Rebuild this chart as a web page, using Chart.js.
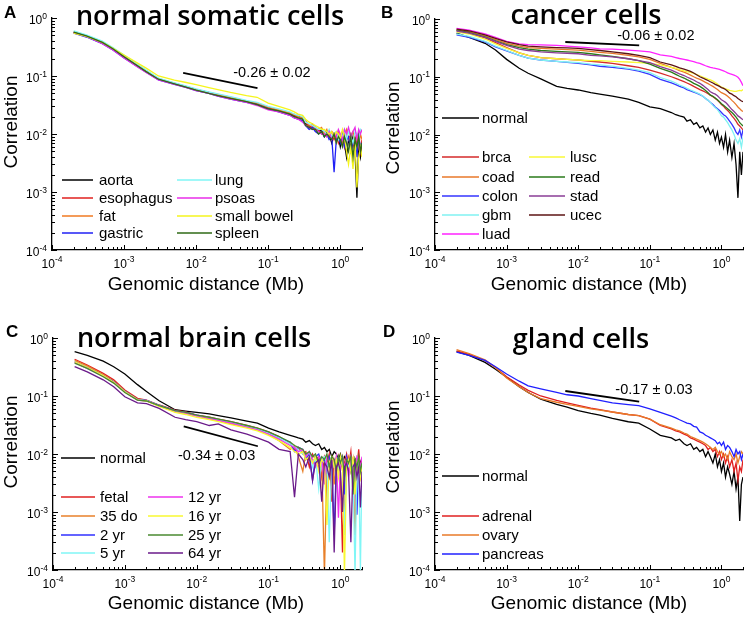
<!DOCTYPE html>
<html>
<head>
<meta charset="utf-8">
<script src="https://cdn.jsdelivr.net/npm/chart.js@4.4.1/dist/chart.umd.min.js"></script>
<style>
  body { margin: 0; background: #fff; }
  #wrap { position: relative; width: 744px; height: 618px; }
  canvas { position: absolute; }
</style>
</head>
<body>
<div id="wrap">
  <canvas id="panelA" width="372" height="309" style="left:0;top:0"></canvas>
  <canvas id="panelB" width="372" height="309" style="left:372px;top:0"></canvas>
  <canvas id="panelC" width="372" height="309" style="left:0;top:309px"></canvas>
  <canvas id="panelD" width="372" height="309" style="left:372px;top:309px"></canvas>
</div>
<script>
// genomic distance (Mb), shared by every series
const distance = [0.0002,0.0003,0.0005,0.0007,0.001,0.0015,0.002,0.003,0.005,0.007,0.01,0.015,0.02,0.03,0.05,0.07,0.1,0.14,
  0.2,0.23,0.26,0.3,0.33,0.37,0.41,0.45,0.5,0.55, 0.6,0.65,0.7,0.76,0.82,0.88,0.94,1.0,1.07,1.14, 1.22,1.3,1.4,1.5,1.6,1.7,1.8,1.9,2.0];

// A - normal somatic cells
const aorta      = [0.57,0.49,0.38,0.30,0.22,0.155,0.122,0.088,0.073,0.066,0.058,0.052,0.047,0.042,0.036,0.033,0.028,0.025,
  0.022,0.020,0.021,0.018,0.015,0.014,0.012,0.013,0.011,0.012, 0.009,0.011,0.010,0.007,0.010,0.008,0.009,0.006,0.009,0.007, 0.004,0.008,0.006,0.009,0.005,0.0008,0.006,0.004,0.007];
const esophagus  = [0.56,0.48,0.37,0.29,0.215,0.152,0.12,0.089,0.074,0.066,0.058,0.051,0.047,0.042,0.036,0.033,0.028,0.025,
  0.023,0.021,0.019,0.019,0.016,0.013,0.014,0.012,0.012,0.010, 0.011,0.009,0.010,0.011,0.008,0.010,0.007,0.009,0.011,0.006, 0.009,0.008,0.010,0.006,0.009,0.007,0.010,0.005,0.008];
const fat        = [0.57,0.49,0.38,0.30,0.22,0.157,0.124,0.09,0.075,0.067,0.059,0.052,0.048,0.043,0.037,0.034,0.029,0.026,
  0.023,0.022,0.020,0.019,0.017,0.014,0.015,0.013,0.012,0.013, 0.010,0.012,0.009,0.011,0.010,0.008,0.011,0.009,0.007,0.010, 0.012,0.008,0.009,0.011,0.007,0.009,0.006,0.010,0.008];
const gastric    = [0.55,0.47,0.36,0.28,0.205,0.148,0.117,0.086,0.072,0.064,0.056,0.05,0.045,0.04,0.035,0.032,0.027,0.024,
  0.021,0.019,0.018,0.017,0.014,0.012,0.013,0.011,0.010,0.011, 0.009,0.010,0.008,0.009,0.0022,0.008,0.009,0.007,0.010,0.006, 0.008,0.009,0.005,0.007,0.008,0.004,0.009,0.006,0.007];
const lung       = [0.60,0.51,0.40,0.31,0.23,0.163,0.128,0.092,0.076,0.068,0.06,0.053,0.049,0.044,0.038,0.035,0.030,0.027,
  0.024,0.022,0.021,0.020,0.016,0.015,0.014,0.013,0.012,0.012, 0.011,0.010,0.012,0.009,0.010,0.011,0.008,0.010,0.009,0.012, 0.008,0.011,0.009,0.007,0.011,0.010,0.008,0.012,0.011];
const psoas      = [0.56,0.48,0.36,0.28,0.205,0.146,0.116,0.086,0.072,0.064,0.056,0.05,0.045,0.04,0.035,0.031,0.026,0.024,
  0.021,0.019,0.018,0.016,0.014,0.013,0.012,0.012,0.011,0.010, 0.010,0.009,0.011,0.008,0.010,0.009,0.012,0.010,0.008,0.012, 0.010,0.013,0.009,0.011,0.013,0.008,0.012,0.010,0.012];
const smallBowel = [0.55,0.48,0.38,0.30,0.23,0.17,0.138,0.10,0.085,0.078,0.071,0.063,0.058,0.052,0.046,0.043,0.034,0.03,
  0.026,0.024,0.022,0.021,0.018,0.016,0.015,0.014,0.013,0.012, 0.012,0.011,0.010,0.011,0.009,0.011,0.010,0.008,0.012,0.009, 0.005,0.003,0.006,0.0025,0.008,0.0012,0.004,0.006,0.004];
const spleen     = [0.57,0.49,0.38,0.295,0.215,0.153,0.12,0.088,0.073,0.065,0.057,0.05,0.046,0.041,0.036,0.032,0.027,0.025,
  0.022,0.020,0.019,0.018,0.014,0.013,0.012,0.012,0.010,0.011, 0.009,0.010,0.009,0.008,0.010,0.007,0.009,0.008,0.006,0.009, 0.007,0.005,0.009,0.004,0.008,0.006,0.009,0.005,0.007];

// B - cancer cells
const normalB = [0.57,0.48,0.38,0.29,0.2,0.14,0.115,0.092,0.068,0.063,0.059,0.053,0.05,0.046,0.041,0.036,0.03,0.028,
  0.024,0.022,0.021,0.020,0.017,0.018,0.015,0.016,0.013,0.014, 0.011,0.013,0.010,0.012,0.008,0.011,0.007,0.009,0.006,0.010, 0.005,0.008,0.004,0.007,0.003,0.0008,0.005,0.002,0.005];
const brca  = [0.63,0.57,0.47,0.39,0.32,0.26,0.235,0.215,0.205,0.2,0.195,0.185,0.18,0.17,0.155,0.145,0.13,0.115,
  0.1,0.094,0.088,0.082,0.078,0.073,0.068,0.064,0.06,0.057, 0.054,0.051,0.048,0.045,0.042,0.039,0.036,0.033,0.031,0.028, 0.026,0.024,0.021,0.019,0.017,0.015,0.014,0.013,0.012];
const coad  = [0.65,0.6,0.51,0.44,0.38,0.34,0.32,0.31,0.30,0.295,0.29,0.275,0.265,0.255,0.235,0.22,0.2,0.17,
  0.145,0.137,0.128,0.12,0.114,0.107,0.1,0.095,0.09,0.085, 0.08,0.076,0.072,0.068,0.064,0.06,0.056,0.053,0.051,0.049, 0.046,0.043,0.039,0.036,0.033,0.03,0.028,0.026,0.025];
const colon = [0.53,0.48,0.40,0.33,0.28,0.235,0.21,0.195,0.185,0.178,0.17,0.16,0.152,0.145,0.135,0.125,0.11,0.09,
  0.078,0.073,0.068,0.064,0.06,0.057,0.054,0.052,0.049,0.046, 0.042,0.039,0.036,0.033,0.03,0.028,0.026,0.024,0.022,0.021, 0.019,0.017,0.015,0.013,0.011,0.01,0.012,0.009,0.012];
const gbm   = [0.55,0.5,0.41,0.34,0.285,0.235,0.21,0.195,0.185,0.18,0.175,0.165,0.16,0.153,0.14,0.13,0.118,0.097,
  0.084,0.078,0.072,0.067,0.063,0.059,0.056,0.053,0.05,0.046, 0.042,0.039,0.036,0.032,0.029,0.027,0.024,0.021,0.02,0.018, 0.016,0.014,0.012,0.01,0.008,0.007,0.0085,0.006,0.009];
const luad  = [0.69,0.64,0.55,0.48,0.41,0.37,0.36,0.355,0.35,0.34,0.33,0.315,0.305,0.30,0.29,0.28,0.27,0.24,
  0.225,0.215,0.207,0.2,0.195,0.188,0.182,0.176,0.17,0.162, 0.155,0.15,0.145,0.142,0.14,0.137,0.134,0.13,0.126,0.122, 0.117,0.113,0.11,0.107,0.103,0.098,0.09,0.08,0.07];
const lusc  = [0.6,0.55,0.45,0.37,0.31,0.26,0.235,0.215,0.205,0.2,0.195,0.19,0.19,0.185,0.18,0.175,0.17,0.16,
  0.145,0.139,0.133,0.127,0.123,0.119,0.114,0.109,0.104,0.099, 0.095,0.091,0.088,0.084,0.079,0.075,0.07,0.066,0.064,0.062, 0.06,0.058,0.057,0.056,0.056,0.057,0.058,0.057,0.06];
const read  = [0.64,0.58,0.49,0.42,0.36,0.32,0.30,0.285,0.275,0.27,0.265,0.25,0.24,0.225,0.205,0.19,0.165,0.14,
  0.12,0.11,0.102,0.095,0.089,0.083,0.077,0.073,0.068,0.063, 0.058,0.053,0.048,0.046,0.043,0.04,0.037,0.034,0.032,0.03, 0.028,0.026,0.024,0.022,0.02,0.018,0.016,0.015,0.014];
const stad  = [0.62,0.57,0.48,0.41,0.35,0.30,0.285,0.27,0.26,0.255,0.25,0.235,0.23,0.22,0.205,0.19,0.175,0.15,
  0.13,0.12,0.112,0.105,0.099,0.093,0.088,0.082,0.077,0.071, 0.065,0.06,0.055,0.052,0.05,0.047,0.043,0.04,0.038,0.036, 0.033,0.03,0.027,0.025,0.023,0.021,0.02,0.019,0.018];
const ucec  = [0.67,0.62,0.53,0.46,0.40,0.36,0.34,0.33,0.32,0.315,0.31,0.295,0.285,0.27,0.25,0.235,0.215,0.18,
  0.16,0.151,0.142,0.135,0.13,0.124,0.116,0.108,0.1,0.095, 0.09,0.086,0.082,0.078,0.074,0.071,0.068,0.065,0.063,0.06, 0.056,0.052,0.05,0.047,0.045,0.042,0.04,0.038,0.037];

// C - normal brain cells
const normalC = [0.58,0.5,0.4,0.32,0.24,0.157,0.12,0.083,0.058,0.055,0.052,0.049,0.046,0.042,0.037,0.034,0.028,0.024,
  0.021,0.020,0.019,0.018,0.016,0.017,0.015,0.014,0.015,0.012, 0.013,0.011,0.012,0.009,0.011,0.010,0.008,0.010,0.007,0.009, 0.008,0.006,0.009,0.007,0.008,0.005,0.009,0.007,0.008];
const fetal = [0.43,0.34,0.245,0.19,0.127,0.091,0.085,0.07,0.057,0.053,0.047,0.043,0.04,0.036,0.031,0.028,0.024,0.02,
  0.015,0.012,0.013,0.010,0.011,0.006,0.010,0.008,0.009,0.004, 0.009,0.007,0.010,0.0015,0.008,0.006,0.009,0.005,0.0002,0.007, 0.010,0.006,0.011,0.003,0.008,0.006,0.012,0.005,0.008];
const do35  = [0.41,0.33,0.235,0.18,0.122,0.088,0.083,0.068,0.055,0.05,0.046,0.04,0.038,0.033,0.029,0.026,0.022,0.017,
  0.012,0.014,0.009,0.005,0.010,0.008,0.007,0.009,0.006,0.008, 0.00008,0.007,0.006,0.008,0.003,0.009,0.006,0.005,0.008,0.0006, 0.007,0.009,0.005,0.008,0.0004,0.007,0.008,0.004,0.006];
const yr2   = [0.39,0.31,0.225,0.175,0.12,0.087,0.084,0.069,0.056,0.052,0.047,0.042,0.039,0.035,0.03,0.027,0.023,0.019,
  0.016,0.011,0.013,0.012,0.008,0.010,0.0035,0.009,0.010,0.007, 0.008,0.005,0.009,0.007,0.0004,0.008,0.009,0.006,0.008,0.002, 0.009,0.007,0.005,0.008,0.006,0.0009,0.007,0.005,0.007];
const yr5   = [0.38,0.30,0.22,0.17,0.118,0.086,0.083,0.068,0.055,0.051,0.046,0.042,0.039,0.035,0.03,0.027,0.023,0.019,
  0.015,0.013,0.012,0.010,0.009,0.011,0.006,0.009,0.0025,0.008, 0.009,0.007,0.0003,0.008,0.006,0.009,0.005,0.008,0.009,0.0004, 0.007,0.006,0.008,0.005,0.00008,0.008,0.006,0.0001,0.007];
const yr12  = [0.38,0.30,0.22,0.17,0.117,0.085,0.082,0.067,0.054,0.05,0.045,0.041,0.038,0.034,0.029,0.026,0.022,0.018,
  0.014,0.013,0.011,0.012,0.009,0.011,0.008,0.006,0.009,0.008, 0.003,0.009,0.007,0.008,0.006,0.009,0.0008,0.007,0.009,0.006, 0.008,0.004,0.009,0.007,0.005,0.009,0.008,0.006,0.009];
const yr16  = [0.39,0.31,0.225,0.172,0.118,0.086,0.082,0.066,0.052,0.048,0.043,0.039,0.036,0.032,0.028,0.025,0.021,0.017,
  0.013,0.011,0.010,0.011,0.008,0.009,0.007,0.009,0.005,0.008, 0.007,0.0006,0.007,0.009,0.006,0.008,0.004,0.009,0.006,0.00008, 0.007,0.008,0.005,0.009,0.002,0.007,0.008,0.004,0.006];
const yr25  = [0.37,0.30,0.215,0.167,0.115,0.085,0.082,0.068,0.056,0.052,0.047,0.043,0.04,0.036,0.031,0.028,0.024,0.02,
  0.016,0.014,0.013,0.012,0.010,0.011,0.009,0.010,0.007,0.009, 0.008,0.010,0.006,0.009,0.008,0.005,0.009,0.007,0.009,0.004, 0.008,0.007,0.009,0.002,0.008,0.006,0.009,0.005,0.007];
const yr64  = [0.32,0.26,0.19,0.144,0.097,0.076,0.074,0.061,0.043,0.039,0.036,0.031,0.033,0.026,0.022,0.019,0.016,0.012,
  0.011,0.0018,0.010,0.008,0.006,0.009,0.0035,0.007,0.008,0.0015, 0.007,0.006,0.004,0.008,0.0002,0.006,0.007,0.005,0.001,0.006, 0.007,0.005,0.0003,0.006,0.007,0.004,0.006,0.0012,0.005];

// D - gland cells
const normalD  = [0.58,0.5,0.38,0.29,0.21,0.145,0.115,0.088,0.072,0.064,0.056,0.05,0.047,0.041,0.036,0.034,0.027,0.021,
  0.019,0.017,0.018,0.015,0.014,0.015,0.012,0.013,0.011,0.012, 0.009,0.011,0.009,0.007,0.010,0.006,0.008,0.005,0.007,0.004, 0.006,0.0045,0.003,0.005,0.0025,0.004,0.0007,0.003,0.004];
const adrenal  = [0.6,0.52,0.41,0.31,0.215,0.155,0.125,0.1,0.084,0.076,0.069,0.062,0.058,0.053,0.048,0.046,0.04,0.031,
  0.027,0.025,0.024,0.022,0.021,0.019,0.018,0.017,0.016,0.015, 0.014,0.012,0.013,0.011,0.012,0.009,0.011,0.008,0.010,0.007, 0.009,0.006,0.008,0.005,0.007,0.0035,0.006,0.005,0.008];
const ovary    = [0.63,0.54,0.42,0.31,0.205,0.145,0.115,0.09,0.078,0.072,0.066,0.06,0.057,0.053,0.048,0.046,0.04,0.032,
  0.028,0.026,0.025,0.023,0.022,0.020,0.019,0.018,0.017,0.016, 0.015,0.014,0.013,0.012,0.013,0.011,0.010,0.011,0.009,0.010, 0.008,0.011,0.009,0.008,0.010,0.007,0.009,0.011,0.010];
const pancreas = [0.57,0.5,0.41,0.32,0.24,0.18,0.15,0.133,0.115,0.105,0.1,0.09,0.084,0.076,0.071,0.068,0.06,0.052,
  0.045,0.042,0.039,0.036,0.034,0.033,0.030,0.029,0.024,0.023, 0.021,0.020,0.019,0.018,0.017,0.015,0.016,0.014,0.016,0.012, 0.014,0.013,0.011,0.009,0.012,0.010,0.011,0.008,0.010];

// fitted slope guide lines and their labels
const slopeX = [0.0066, 0.071];
const slopeA = [0.113, 0.062];
const slopeB = [0.40, 0.35];
const slopeC = [0.030, 0.0136];
const slopeD = [0.122, 0.08];
const slopeText = ['-0.26 \u00b1 0.02', '-0.06 \u00b1 0.02', '-0.34 \u00b1 0.03', '-0.17 \u00b1 0.03'];

// tick labels: 10^exp
const decades = [1e-4, 1e-3, 1e-2, 1e-1, 1];
const exponents = ['-4', '-3', '-2', '-1', '0'];

const SANS = '"Liberation Sans", Arial, sans-serif';

function powLabel(ctx, x, y, exp, align) {
  ctx.font = '12px ' + SANS;
  const wb = ctx.measureText('10').width;
  ctx.font = '8.5px ' + SANS;
  const we = ctx.measureText(exp).width;
  const left = align === 'right' ? x - wb - we : x - (wb + we) / 2;
  ctx.textAlign = 'left';
  ctx.textBaseline = 'alphabetic';
  ctx.font = '12px ' + SANS;
  ctx.fillText('10', left, y);
  ctx.font = '8.5px ' + SANS;
  ctx.fillText(exp, left + wb, y - 5.5);
}

const decor = {
  id: 'decor',
  afterDraw(chart, args, o) {
    const ctx = chart.ctx;
    const xs = chart.scales.x, ys = chart.scales.y;
    const a = chart.chartArea;
    ctx.save();
    ctx.fillStyle = '#000';
    ctx.strokeStyle = '#000';
    ctx.lineWidth = 1;

    // inward ticks, major and minor
    ctx.beginPath();
    for (let e = -4; e <= 0; e++) {
      for (let m = 1; m <= 9; m++) {
        const v = m * Math.pow(10, e);
        const len = m === 1 ? 5 : 3;
        if (v <= 2) {
          const px = Math.round(xs.getPixelForValue(v)) + 0.5;
          ctx.moveTo(px, a.bottom); ctx.lineTo(px, a.bottom - len);
        }
        if (v <= 1) {
          const py = Math.round(ys.getPixelForValue(v)) + 0.5;
          ctx.moveTo(a.left, py); ctx.lineTo(a.left + len, py);
        }
      }
    }
    ctx.stroke();

    decades.forEach((v, i) => {
      powLabel(ctx, xs.getPixelForValue(v), a.bottom + 17.5, exponents[i], 'center');
      powLabel(ctx, a.left - 5, ys.getPixelForValue(v) + 6, exponents[i], 'right');
    });

    // axis titles
    ctx.font = '19px ' + SANS;
    ctx.textAlign = 'center';
    ctx.textBaseline = 'middle';
    ctx.fillText('Genomic distance (Mb)', o.xTitle[0], o.xTitle[1]);
    ctx.save();
    ctx.translate(o.yTitle[0], o.yTitle[1]);
    ctx.rotate(-Math.PI / 2);
    ctx.fillText('Correlation', 0, 0);
    ctx.restore();

    // panel title and letter
    ctx.font = '600 27px "Open Sans", sans-serif';
    ctx.textBaseline = 'alphabetic';
    ctx.fillText(o.title, o.titlePos[0], o.titlePos[1]);
    ctx.font = 'bold 17px ' + SANS;
    ctx.textAlign = 'left';
    ctx.fillText(o.letter, o.letterPos[0], o.letterPos[1]);

    // slope label
    ctx.font = '14.5px ' + SANS;
    ctx.textBaseline = 'middle';
    ctx.fillText(o.slopeLabel, xs.getPixelForValue(o.slopeAt[0]), ys.getPixelForValue(o.slopeAt[1]));

    // legend
    ctx.font = '15px ' + SANS;
    ctx.lineWidth = 1.5;
    o.series.forEach(s => {
      const col = o.legendCols[s.slot[0]];
      const y = o.legendRows[s.slot[1]];
      ctx.strokeStyle = s.color;
      ctx.beginPath();
      ctx.moveTo(col[0], y); ctx.lineTo(col[1], y);
      ctx.stroke();
      ctx.fillText(s.name, col[2], y + 1);
    });
    ctx.restore();
  }
};

function makePanel(id, cfg) {
  const n = cfg.series.length;
  const datasets = cfg.series.map((s, i) => ({
    label: s.name,
    data: s.values.map((v, k) => ({ x: distance[k], y: v })),
    borderColor: s.color,
    borderWidth: 1.3,
    pointRadius: 0,
    order: n - i
  }));
  datasets.push({
    label: 'slope',
    data: slopeX.map((x, k) => ({ x: x, y: cfg.slope[k] })),
    borderColor: '#000',
    borderWidth: 1.8,
    pointRadius: 0,
    order: 0
  });
  const area = cfg.area;
  return new Chart(document.getElementById(id), {
    type: 'line',
    data: { datasets: datasets },
    options: {
      responsive: false,
      animation: false,
      devicePixelRatio: 1,
      layout: { padding: { left: 0, top: area[1], right: 372 - area[2], bottom: 0 } },
      plugins: { legend: { display: false }, tooltip: { enabled: false }, decor: cfg },
      scales: {
        x: {
          type: 'logarithmic', min: 1e-4, max: 2,
          ticks: { display: false },
          grid: { display: false, drawTicks: false },
          border: { color: '#000', width: 1.3 },
          afterFit: s => { s.height = 309 - area[3]; }
        },
        y: {
          type: 'logarithmic', min: 1e-4, max: 1,
          ticks: { display: false },
          grid: { display: false, drawTicks: false },
          border: { color: '#000', width: 1.3 },
          afterFit: s => { s.width = area[0]; }
        }
      }
    },
    plugins: [decor]
  });
}

makePanel('panelA', {
  title: 'normal somatic cells', titlePos: [210, 25], letter: 'A', letterPos: [4, 18],
  area: [52, 18, 362, 250], xTitle: [206, 285], yTitle: [12, 122],
  slope: slopeA, slopeLabel: slopeText[0], slopeAt: [0.0327, 0.113],
  legendCols: [[62, 93, 99], [177, 212, 215]], legendRows: [180, 198, 216, 233],
  series: [
    { name: 'aorta', values: aorta, color: '#000000', slot: [0, 0] },
    { name: 'esophagus', values: esophagus, color: '#e0201e', slot: [0, 1] },
    { name: 'fat', values: fat, color: '#f07a22', slot: [0, 2] },
    { name: 'gastric', values: gastric, color: '#2020f5', slot: [0, 3] },
    { name: 'lung', values: lung, color: '#80f6f6', slot: [1, 0] },
    { name: 'psoas', values: psoas, color: '#e82ee8', slot: [1, 1] },
    { name: 'small bowel', values: smallBowel, color: '#f5f51e', slot: [1, 2] },
    { name: 'spleen', values: spleen, color: '#2f6a16', slot: [1, 3] }
  ]
});

makePanel('panelB', {
  title: 'cancer cells', titlePos: [214, 24], letter: 'B', letterPos: [9, 18],
  area: [63, 19, 371, 250], xTitle: [217, 285], yTitle: [22, 128],
  slope: slopeB, slopeLabel: slopeText[1], slopeAt: [0.035, 0.51],
  legendCols: [[70, 107, 110], [157, 193, 198]], legendRows: [118, 157, 177, 196, 215, 234],
  series: [
    { name: 'normal', values: normalB, color: '#000000', slot: [0, 0] },
    { name: 'brca', values: brca, color: '#d42a2a', slot: [0, 1] },
    { name: 'coad', values: coad, color: '#e8782a', slot: [0, 2] },
    { name: 'colon', values: colon, color: '#3535ff', slot: [0, 3] },
    { name: 'gbm', values: gbm, color: '#80f2f2', slot: [0, 4] },
    { name: 'luad', values: luad, color: '#ff22ff', slot: [0, 5] },
    { name: 'lusc', values: lusc, color: '#f8f836', slot: [1, 1] },
    { name: 'read', values: read, color: '#2a7a1a', slot: [1, 2] },
    { name: 'stad', values: stad, color: '#8a3d96', slot: [1, 3] },
    { name: 'ucec', values: ucec, color: '#5c1414', slot: [1, 4] }
  ]
});

makePanel('panelC', {
  title: 'normal brain cells', titlePos: [194, 38], letter: 'C', letterPos: [6, 28],
  area: [53, 29, 362, 261], xTitle: [206, 295], yTitle: [12, 133],
  slope: slopeC, slopeLabel: slopeText[2], slopeAt: [0.0055, 0.0092],
  legendCols: [[61, 95, 100], [148, 183, 188]], legendRows: [149, 188, 207, 226, 244],
  series: [
    { name: 'normal', values: normalC, color: '#000000', slot: [0, 0] },
    { name: 'fetal', values: fetal, color: '#e02020', slot: [0, 1] },
    { name: '35 do', values: do35, color: '#e8802a', slot: [0, 2] },
    { name: '2 yr', values: yr2, color: '#3030ff', slot: [0, 3] },
    { name: '5 yr', values: yr5, color: '#80f6f6', slot: [0, 4] },
    { name: '12 yr', values: yr12, color: '#ee33ee', slot: [1, 1] },
    { name: '16 yr', values: yr16, color: '#f8f830', slot: [1, 2] },
    { name: '25 yr', values: yr25, color: '#4a8a30', slot: [1, 3] },
    { name: '64 yr', values: yr64, color: '#6a1a8a', slot: [1, 4] }
  ]
});

makePanel('panelD', {
  title: 'gland cells', titlePos: [209, 39], letter: 'D', letterPos: [11, 28],
  area: [63, 29, 371, 261], xTitle: [217, 295], yTitle: [22, 138],
  slope: slopeD, slopeLabel: slopeText[3], slopeAt: [0.033, 0.126],
  legendCols: [[70, 107, 110]], legendRows: [167, 207, 226, 245],
  series: [
    { name: 'normal', values: normalD, color: '#000000', slot: [0, 0] },
    { name: 'adrenal', values: adrenal, color: '#e02020', slot: [0, 1] },
    { name: 'ovary', values: ovary, color: '#e87a28', slot: [0, 2] },
    { name: 'pancreas', values: pancreas, color: '#2020ff', slot: [0, 3] }
  ]
});
</script>
</body>
</html>
